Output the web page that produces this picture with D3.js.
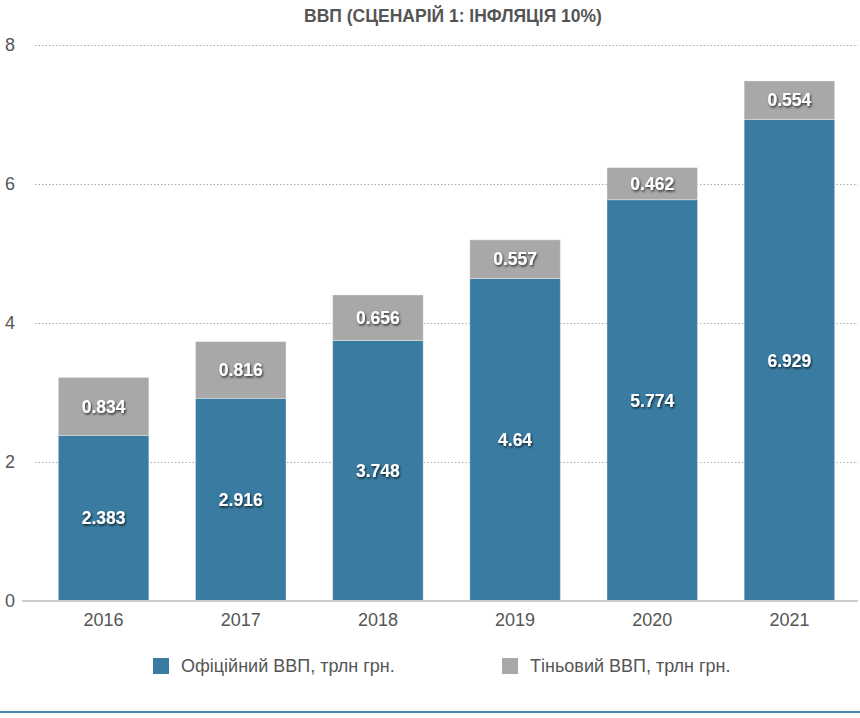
<!DOCTYPE html>
<meta charset="utf-8">
<style>
body { margin: 0; background: #fff; }
svg { font-family: "Liberation Sans", Arial, sans-serif; }
.grid line { stroke: #aaa; stroke-dasharray: 1.5, 2; }
.grid path { display: none; }
</style>
<body>
<script src="https://d3js.org/d3.v7.min.js"></script>
<script>

const years = ["2016", "2017", "2018", "2019", "2020", "2021"];
const official = [2.383, 2.916, 3.748, 4.64, 5.774, 6.929];
const shadow = [0.834, 0.816, 0.656, 0.557, 0.462, 0.554];
const yTicks = [0, 2, 4, 6, 8];
const seriesNames = ["Офіційний ВВП, трлн грн.", "Тіньовий ВВП, трлн грн."];
const colors = ["#3a7ca1", "#a8a8a8"];

const W = 860, H = 718;
const plot = { left: 35, right: 858, top: 45, bottom: 601 };

const svg = d3.select("body").append("svg")
   .attr("width", W)
   .attr("height", H);

// shadow under bar labels
const defs = svg.append("defs");
const f = defs.append("filter").attr("id", "lblShadow")
   .attr("x", "-20%").attr("y", "-40%").attr("width", "140%").attr("height", "180%");
f.append("feDropShadow")
   .attr("dx", 1).attr("dy", 1.5).attr("stdDeviation", 0.8)
   .attr("flood-color", "#000").attr("flood-opacity", 0.75);

const x = d3.scaleBand()
   .domain(years)
   .range([plot.left, plot.right])
   .paddingInner(0.34)
   .paddingOuter(0.17);

const y = d3.scaleLinear()
   .domain([0, 8])
   .range([plot.bottom, plot.top]);

// title
svg.append("text")
   .attr("x", 453)
   .attr("y", 22)
   .attr("text-anchor", "middle")
   .style("font-size", "17.5px")
   .style("font-weight", "bold")
   .style("fill", "#555")
   .text("ВВП (СЦЕНАРІЙ 1: ІНФЛЯЦІЯ 10%)");

// grid
svg.append("g")
   .attr("class", "grid")
   .attr("transform", `translate(${plot.left},0)`)
   .call(d3.axisLeft(y).tickValues(yTicks.filter(d => d > 0))
      .tickSize(-(plot.right - plot.left)).tickFormat(""));

// y tick labels
svg.append("g")
   .selectAll("text")
   .data(yTicks)
   .join("text")
   .attr("x", 10)
   .attr("y", d => y(d))
   .attr("dy", "0.35em")
   .attr("text-anchor", "middle")
   .style("font-size", "18px")
   .style("fill", "#555")
   .text(d => d);

// stacked data
const rows = years.map((yr, i) => ({ year: yr, official: official[i], shadow: shadow[i] }));
const stack = d3.stack().keys(["official", "shadow"])(rows);

const layers = svg.append("g")
   .selectAll("g")
   .data(stack)
   .join("g")
   .attr("fill", (d, i) => colors[i]);

layers.selectAll("rect")
   .data(d => d)
   .join("rect")
   .attr("x", d => x(d.data.year))
   .attr("y", d => y(d[1]))
   .attr("width", x.bandwidth())
   .attr("height", d => y(d[0]) - y(d[1]))
   .attr("stroke", "rgba(255,255,255,0.35)")
   .attr("stroke-width", 1);

// baseline
svg.append("line")
   .attr("x1", 22).attr("x2", plot.right)
   .attr("y1", y(0)).attr("y2", y(0))
   .attr("stroke", "#ccc")
   .attr("stroke-width", 2);

// value labels
layers.selectAll("text")
   .data((d, i) => d.map(v => ({ v: v, key: d.key })))
   .join("text")
   .attr("x", d => x(d.v.data.year) + x.bandwidth() / 2)
   .attr("y", d => y((d.v[0] + d.v[1]) / 2))
   .attr("dy", "0.36em")
   .attr("text-anchor", "middle")
   .attr("filter", "url(#lblShadow)")
   .style("font-size", "17.5px")
   .style("font-weight", "bold")
   .style("fill", "#fff")
   .text(d => d.v.data[d.key]);

// x labels
svg.append("g")
   .selectAll("text")
   .data(years)
   .join("text")
   .attr("x", d => x(d) + x.bandwidth() / 2)
   .attr("y", 620)
   .attr("dy", "0.35em")
   .attr("text-anchor", "middle")
   .style("font-size", "18px")
   .style("fill", "#555")
   .text(d => d);

// legend
const legendX = [153, 502];
const legend = svg.append("g")
   .selectAll("g")
   .data(seriesNames)
   .join("g")
   .attr("transform", (d, i) => `translate(${legendX[i]},658)`);

legend.append("rect")
   .attr("width", 16)
   .attr("height", 16)
   .attr("fill", (d, i) => colors[i]);

legend.append("text")
   .attr("x", 28)
   .attr("y", 8)
   .attr("dy", "0.35em")
   .style("font-size", "18px")
   .style("fill", "#555")
   .text(d => d);

// bottom rule
svg.append("line")
   .attr("x1", 0).attr("x2", W)
   .attr("y1", 712).attr("y2", 712)
   .attr("stroke", "#4a86ad")
   .attr("stroke-width", 2);

</script>
</body>
</html>
